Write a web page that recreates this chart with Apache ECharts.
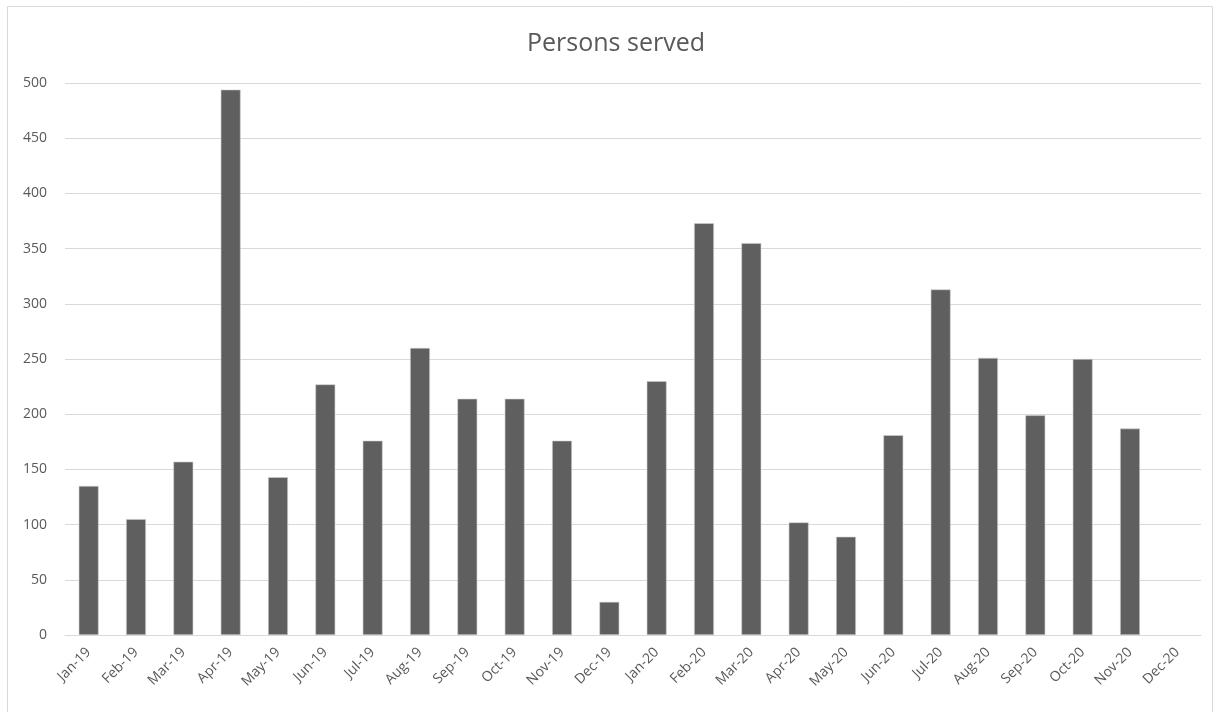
<!DOCTYPE html>
<html>
<head>
<meta charset="utf-8">
<script src="https://cdn.jsdelivr.net/npm/echarts@6/dist/echarts.min.js"></script>
<style>
html,body{margin:0;padding:0;background:#fff;}
#chart{width:1218px;height:712px;}
</style>
</head>
<body>
<div id="chart"></div>
<script>
const titleText = "Persons served";
const categories = ["Jan-19","Feb-19","Mar-19","Apr-19","May-19","Jun-19","Jul-19","Aug-19","Sep-19","Oct-19","Nov-19","Dec-19",
  "Jan-20","Feb-20","Mar-20","Apr-20","May-20","Jun-20","Jul-20","Aug-20","Sep-20","Oct-20","Nov-20","Dec-20"];
const personsServed = [135,105,157,494,143,227,176,260,214,214,176,30,
  230,373,355,102,89,181,313,251,199,250,187,null];
const yTicks = {min:0, max:500, interval:50};

const chart = echarts.init(document.getElementById('chart'), null, {renderer:'canvas'});
const font = '"Open Sans", "Liberation Sans", sans-serif';
chart.setOption({
  animation:false,
  backgroundColor:'#ffffff',
  title:{text:titleText,left:522,top:26,
    textStyle:{fontFamily:font,fontSize:25,fontWeight:'normal',color:'#595959'}},
  graphic:[{type:'rect',shape:{x:7.5,y:6.5,width:1205,height:720},
    style:{fill:'none',stroke:'#d9d9d9',lineWidth:1},silent:true,z:-1}],
  grid:{left:65,right:17,top:83,bottom:77,containLabel:false},
  xAxis:{type:'category',data:categories,
    axisLine:{show:true,lineStyle:{color:'#d9d9d9',width:1}},
    axisTick:{show:false},
    axisLabel:{rotate:45,margin:15,interval:0,fontFamily:font,fontSize:14,color:'#595959'}},
  yAxis:{type:'value',min:yTicks.min,max:yTicks.max,interval:yTicks.interval,
    axisLine:{show:false},axisTick:{show:false},
    splitLine:{lineStyle:{color:'#d9d9d9',width:1}},
    axisLabel:{margin:18,fontFamily:font,fontSize:14,color:'#595959'}},
  series:[{type:'bar',data:personsServed,barWidth:'42%',
    itemStyle:{color:'#5f5f5f',borderColor:'#d0d0d0',borderWidth:0.6}}]
});
</script>
</body>
</html>
